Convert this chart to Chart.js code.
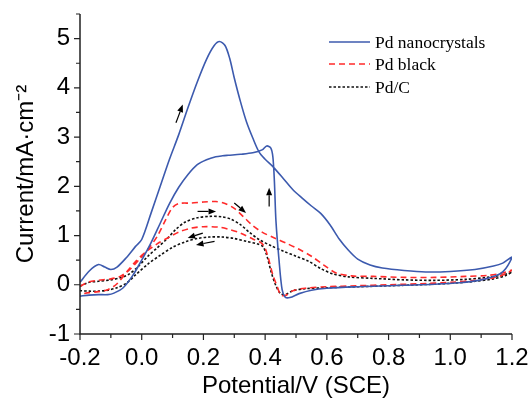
<!DOCTYPE html>
<html><head><meta charset="utf-8">
<script src="https://cdn.jsdelivr.net/npm/chart.js@4/dist/chart.umd.min.js"></script>
<style>html,body{margin:0;padding:0;background:#fff}#wrap{width:531px;height:401px}</style>
</head><body><div id="wrap"><canvas id="c"></canvas></div>
<script>
// ---- data (potential V vs SCE, current mA/cm^2) ----
const seriesNames = ['Pd nanocrystals', 'Pd black', 'Pd/C'];
const blueV = [-0.2,-0.17,-0.14,-0.12,-0.1,-0.08,-0.05,-0.02,0.0,0.03,0.06,0.09,0.12,0.15,0.18,0.21,0.235,0.252,0.27,0.285,0.3,0.32,0.34,0.36,0.38,0.40,0.425,0.46,0.49,0.52,0.55,0.58,0.61,0.64,0.67,0.70,0.74,0.78,0.85,0.92,1.0,1.08,1.14,1.17,1.2,
  1.18,1.16,1.1,1.03,0.95,0.85,0.7,0.6,0.55,0.51,0.48,0.465,0.455,0.445,0.435,0.43,0.425,0.418,0.405,0.39,0.36,0.32,0.28,0.262,0.24,0.21,0.18,0.15,0.12,0.09,0.06,0.03,0.0,-0.03,-0.06,-0.09,-0.11,-0.14,-0.17,-0.2];
const blueI = [0.05,0.28,0.41,0.36,0.31,0.36,0.55,0.78,0.92,1.45,2.0,2.55,3.05,3.6,4.12,4.58,4.86,4.94,4.86,4.6,4.2,3.72,3.3,2.98,2.7,2.55,2.4,2.15,1.93,1.76,1.6,1.45,1.22,0.93,0.7,0.52,0.4,0.34,0.29,0.26,0.27,0.31,0.38,0.44,0.56,
  0.33,0.22,0.1,0.04,0.01,-0.01,-0.04,-0.07,-0.11,-0.18,-0.26,-0.25,-0.1,0.5,1.3,2.1,2.6,2.78,2.82,2.74,2.68,2.65,2.63,2.62,2.6,2.54,2.44,2.24,1.98,1.65,1.25,0.85,0.5,0.18,-0.06,-0.17,-0.2,-0.2,-0.21,-0.23];
const redV = [-0.2,-0.17,-0.14,-0.1,-0.07,-0.04,-0.01,0.02,0.05,0.08,0.1,0.12,0.16,0.2,0.24,0.27,0.3,0.33,0.36,0.39,0.43,0.47,0.51,0.55,0.59,0.63,0.68,0.75,0.85,0.95,1.05,1.12,1.17,1.2,
  1.18,1.14,1.08,1.0,0.9,0.8,0.7,0.6,0.53,0.49,0.465,0.45,0.44,0.425,0.41,0.398,0.385,0.36,0.32,0.28,0.25,0.2,0.16,0.12,0.09,0.05,0.01,-0.02,-0.05,-0.08,-0.11,-0.14,-0.17,-0.2];
const redI = [-0.03,0.06,0.09,0.12,0.17,0.3,0.5,0.72,0.98,1.35,1.57,1.65,1.66,1.68,1.69,1.65,1.55,1.38,1.2,1.07,0.95,0.84,0.72,0.58,0.4,0.24,0.18,0.17,0.15,0.15,0.17,0.19,0.24,0.3,
  0.22,0.14,0.09,0.05,0.02,0.0,-0.02,-0.04,-0.07,-0.12,-0.22,-0.2,-0.05,0.2,0.55,0.77,0.86,0.93,1.05,1.13,1.17,1.18,1.15,1.07,0.97,0.83,0.65,0.47,0.25,0.02,-0.1,-0.14,-0.16,-0.19];
const blackV = [-0.2,-0.17,-0.14,-0.1,-0.07,-0.04,-0.01,0.02,0.05,0.08,0.11,0.14,0.18,0.22,0.26,0.29,0.32,0.35,0.38,0.42,0.46,0.5,0.54,0.58,0.62,0.67,0.75,0.85,0.95,1.05,1.12,1.17,1.2,
  1.18,1.14,1.08,1.0,0.9,0.8,0.7,0.6,0.53,0.49,0.465,0.45,0.435,0.42,0.405,0.392,0.375,0.34,0.3,0.26,0.22,0.18,0.14,0.1,0.06,0.02,-0.02,-0.05,-0.08,-0.11,-0.14,-0.17,-0.2];
const blackI = [-0.03,0.05,0.07,0.1,0.14,0.22,0.38,0.58,0.75,0.92,1.12,1.27,1.36,1.39,1.38,1.33,1.22,1.06,0.92,0.79,0.68,0.58,0.48,0.33,0.22,0.16,0.13,0.1,0.09,0.11,0.15,0.2,0.26,
  0.19,0.12,0.07,0.03,0.0,-0.02,-0.04,-0.06,-0.08,-0.12,-0.2,-0.18,-0.02,0.25,0.6,0.78,0.83,0.88,0.94,0.97,0.97,0.94,0.87,0.76,0.6,0.42,0.2,0.03,-0.06,-0.11,-0.13,-0.13,-0.12];
const xTicks = [-0.2,0.0,0.2,0.4,0.6,0.8,1.0,1.2];
const yTicks = [-1,0,1,2,3,4,5];
// scan-direction arrows: [tailV, tailI, headV, headI]
const arrowTails = [[0.111,3.29],[0.413,1.59],[0.181,1.49],[0.300,1.66],[0.198,1.05],[0.236,0.88]];
const arrowHeads = [[0.133,3.66],[0.413,1.97],[0.241,1.49],[0.338,1.46],[0.149,0.95],[0.176,0.81]];

const toPts = (V, I) => V.map((v, i) => ({x: v, y: I[i]}));
const SANS = "'Liberation Sans', Arial, sans-serif";
const SERIF = "'Liberation Serif', 'Times New Roman', serif";
const colors = ['#3c5aae', '#ff2a2a', '#111111'];
const dashes = [[], [6, 4], [2.5, 2]];

const decor = {
  id: 'decor',
  afterDraw(chart) {
    const ctx = chart.ctx, xs = chart.scales.x, ys = chart.scales.y, a = chart.chartArea;
    ctx.save();
    ctx.strokeStyle = '#222'; ctx.lineWidth = 1.5; ctx.setLineDash([]);
    // axes
    ctx.beginPath();
    ctx.moveTo(a.left, a.top); ctx.lineTo(a.left, a.bottom); ctx.lineTo(a.right, a.bottom);
    ctx.stroke();
    ctx.lineWidth = 1.2;
    ctx.beginPath();
    for (let k = -2; k <= 12; k++) {
      const v = k / 10, px = xs.getPixelForValue(v), len = (k % 2 === 0) ? 6 : 4;
      ctx.moveTo(px, a.bottom); ctx.lineTo(px, a.bottom + len);
    }
    for (let k = -2; k <= 11; k++) {
      const v = k / 2, py = ys.getPixelForValue(v), len = (k % 2 === 0) ? 6 : 4;
      ctx.moveTo(a.left, py); ctx.lineTo(a.left - len, py);
    }
    ctx.stroke();
    // arrows
    ctx.strokeStyle = '#000'; ctx.fillStyle = '#000'; ctx.lineWidth = 1.2;
    arrowTails.forEach((t, i) => {
      const h = arrowHeads[i];
      const x0 = xs.getPixelForValue(t[0]), y0 = ys.getPixelForValue(t[1]);
      const x1 = xs.getPixelForValue(h[0]), y1 = ys.getPixelForValue(h[1]);
      const ang = Math.atan2(y1 - y0, x1 - x0), L = 7.5, W = 3;
      const bx = x1 - L * Math.cos(ang), by = y1 - L * Math.sin(ang);
      ctx.beginPath(); ctx.moveTo(x0, y0); ctx.lineTo(bx, by); ctx.stroke();
      ctx.beginPath();
      ctx.moveTo(x1, y1);
      ctx.lineTo(bx + W * Math.sin(ang), by - W * Math.cos(ang));
      ctx.lineTo(bx - W * Math.sin(ang), by + W * Math.cos(ang));
      ctx.closePath(); ctx.fill();
    });
    // legend
    const lx0 = 329, lx1 = 370, tx = 375, rows = [42, 64, 87];
    ctx.font = '17.5px ' + SERIF; ctx.textBaseline = 'middle'; ctx.fillStyle = '#000';
    seriesNames.forEach((n, i) => {
      ctx.strokeStyle = colors[i]; ctx.lineWidth = 1.3; ctx.setLineDash(dashes[i]);
      ctx.beginPath(); ctx.moveTo(lx0, rows[i]); ctx.lineTo(lx1, rows[i]); ctx.stroke();
      ctx.setLineDash([]);
      ctx.fillText(n, tx, rows[i] + 1);
    });
    ctx.restore();
  }
};

new Chart(document.getElementById('c'), {
  type: 'scatter',
  data: {
    datasets: [
      {label: seriesNames[0], data: toPts(blueV, blueI), borderColor: colors[0], borderWidth: 1.6, borderDash: dashes[0]},
      {label: seriesNames[1], data: toPts(redV, redI), borderColor: colors[1], borderWidth: 1.6, borderDash: dashes[1]},
      {label: seriesNames[2], data: toPts(blackV, blackI), borderColor: colors[2], borderWidth: 1.6, borderDash: dashes[2]}
    ].map(d => Object.assign(d, {showLine: true, pointRadius: 0, tension: 0.3, fill: false}))
  },
  options: {
    responsive: true, maintainAspectRatio: false, animation: false, devicePixelRatio: 1,
    layout: {padding: {top: 14, right: 19, left: 0, bottom: 0}},
    plugins: {legend: {display: false}, tooltip: {enabled: false}},
    scales: {
      x: {
        type: 'linear', min: -0.2, max: 1.2,
        afterBuildTicks: s => { s.ticks = xTicks.map(v => ({value: v})); },
        afterFit: s => { s.height = 67; s.paddingLeft = 0; s.paddingRight = 0; },
        grid: {display: false, drawTicks: false}, border: {display: false},
        ticks: {color: '#000', font: {family: SANS, size: 24}, padding: 10, maxRotation: 0, callback: v => v.toFixed(1)},
        title: {display: true, text: 'Potential/V (SCE)', color: '#000', font: {family: SANS, size: 24}, padding: {top: 0, bottom: 0}}
      },
      y: {
        type: 'linear', min: -1, max: 5.5,
        afterBuildTicks: s => { s.ticks = yTicks.map(v => ({value: v})); },
        afterFit: s => { s.width = 80; s.paddingTop = 0; s.paddingBottom = 0; },
        grid: {display: false, drawTicks: false}, border: {display: false},
        ticks: {color: '#000', font: {family: SANS, size: 24}, padding: 10, callback: v => String(v)},
        title: {display: true, text: 'Current/mA·cm⁻²', color: '#000', font: {family: SANS, size: 24}, padding: {top: 12, bottom: 0}}
      }
    }
  },
  plugins: [decor]
});
</script></body></html>
